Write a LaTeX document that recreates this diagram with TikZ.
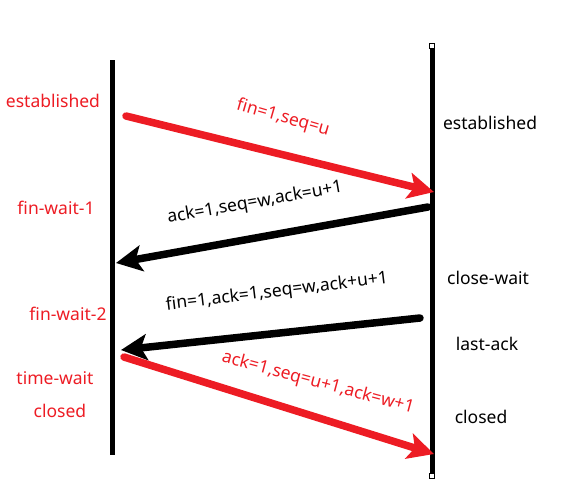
\documentclass[tikz,border=0pt]{standalone}
\usepackage{fontspec}
\setmainfont{Noto Sans}
\usetikzlibrary{arrows.meta}
\definecolor{msgred}{HTML}{ED1C24}

\begin{document}
\begin{tikzpicture}[x=1pt,y=-1pt]
        \tikzstyle{every node}=[inner sep=0pt, font=\fontsize{17.5}{20}\selectfont]
        \tikzstyle{lifeline}=[line width=5pt]
        \tikzstyle{msg}=[line width=7.5pt, line cap=round, -{Stealth[length=26pt,width=26pt,inset=6pt]}]
        \tikzstyle{state}=[anchor=center]
        \tikzstyle{handle}=[draw=black, fill=white, line width=0.6pt, minimum size=5pt, inner sep=0pt]
        \useasboundingbox (0,0) rectangle (561,488);
        % lifelines
        \coordinate (ctop) at (112,60);  \coordinate (cbot) at (112,455);
        \coordinate (stop) at (432,46);  \coordinate (sbot) at (432,476);
        \draw[lifeline] (ctop) -- (cbot);
        \draw[lifeline] (stop) -- (sbot);
        \node[handle] (h1) at (stop) {};
        \node[handle] (h2) at (sbot) {};
        % message ends
        \coordinate (m1a) at (126,116); \coordinate (m1b) at (434,192);
        \coordinate (m2a) at (428,207); \coordinate (m2b) at (116,263);
        \coordinate (m3a) at (420,318); \coordinate (m3b) at (121,350);
        \coordinate (m4a) at (124,357); \coordinate (m4b) at (434,454);
        \draw[msg, msgred] (m1a) -- (m1b);
        \draw[msg] (m2a) -- (m2b);
        \draw[msg] (m3a) -- (m3b);
        \draw[msg, msgred] (m4a) -- (m4b);
        % message labels
        \node[text=msgred, rotate=-16] (l1) at (283,118) {fin=1,seq=u};
        \node[rotate=10] (l2) at (255,203) {ack=1,seq=w,ack=u+1};
        \node[rotate=7] (l3) at (277,292) {fin=1,ack=1,seq=w,ack+u+1};
        \node[text=msgred, rotate=-15] (l4) at (318,383) {ack=1,seq=u+1,ack=w+1};
        % client states
        \node[state, text=msgred] (c1) at (53,101) {established};
        \node[state, text=msgred] (c2) at (56,208) {fin-wait-1};
        \node[state, text=msgred] (c3) at (68,314) {fin-wait-2};
        \node[state, text=msgred] (c4) at (55,378) {time-wait};
        \node[state, text=msgred] (c5) at (60,411) {closed};
        % server states
        \node[state] (s1) at (490,123) {established};
        \node[state] (s2) at (488,278) {close-wait};
        \node[state] (s3) at (487,344) {last-ack};
        \node[state] (s4) at (481,417) {closed};
\end{tikzpicture}
\end{document}
